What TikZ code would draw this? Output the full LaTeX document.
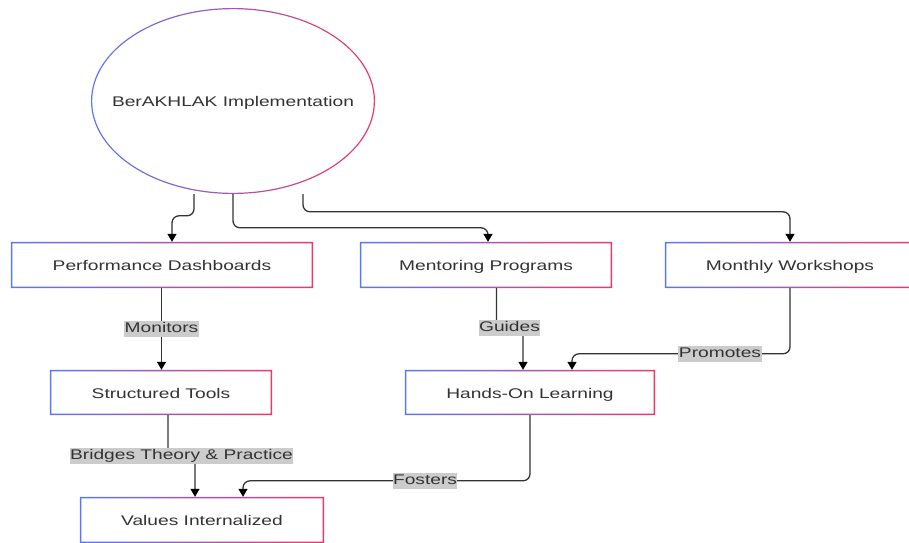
\documentclass[tikz,border=0pt]{standalone}
\usepackage{fontspec}
\setmainfont{Liberation Sans}[FakeStretch=1.37]
\usetikzlibrary{arrows.meta,shapes.geometric}
\definecolor{bl}{RGB}{90,120,245}
\definecolor{rd}{RGB}{240,55,105}
\definecolor{ink}{RGB}{51,51,51}
\definecolor{tagbg}{RGB}{204,204,204}

% blue-to-pink frame around a rectangular node
\newcommand\gradframe[1]{%
  \shade[left color=bl,right color=rd,even odd rule]
    (#1.north west) rectangle (#1.south east)
    ([shift={(1.5pt,-1.5pt)}]#1.north west) rectangle ([shift={(-1.5pt,1.5pt)}]#1.south east);}

\begin{document}
\begin{tikzpicture}[x=1pt,y=-1pt,
  txt/.style={text=ink,font=\fontsize{14}{16}\selectfont},
  box/.style={txt,rectangle,fill=white,inner sep=0pt,minimum height=46pt,
    text height=11pt,text depth=0pt},
  tag/.style={txt,fill=tagbg,inner xsep=0.5pt,inner ysep=1pt,text height=11pt,text depth=3.5pt},
  edge/.style={draw=ink,line width=1.3pt,rounded corners=7pt,
    -{Triangle[width=9pt,length=8pt,color=black]}},
]
\useasboundingbox (0,0) rectangle (909,542);
\clip (0,0) rectangle (909,542);

% start node
\node[txt,ellipse,fill=white,inner sep=0pt,minimum width=284pt,minimum height=186pt,
  text height=11pt,text depth=0pt] (root) at (233,101) {BerAKHLAK Implementation};
\shade[left color=bl,right color=rd,even odd rule]
  (root.center) ellipse [x radius=142pt,y radius=93pt]
  (root.center) ellipse [x radius=140.8pt,y radius=91.8pt];

% boxes
\node[box,minimum width=302pt] (pd)  at (162,265)   {Performance Dashboards};
\node[box,minimum width=252pt] (mp)  at (486,265)   {Mentoring Programs};
\node[box,minimum width=250pt] (mw)  at (790,265)   {Monthly Workshops};
\node[box,minimum width=222pt,minimum height=45pt] (st)  at (161,392.5) {Structured Tools};
\node[box,minimum width=250pt,minimum height=45pt] (hol) at (530,392.5) {Hands-On Learning};
\node[box,minimum width=244pt,minimum height=46pt] (vi)  at (202,520)   {Values Internalized};
\foreach \n in {pd,mp,mw,st,hol,vi} {\gradframe{\n}}

% connectors from the start node
\draw[edge] ([xshift=-39pt]root.south) |- ([xshift=10pt,yshift=26pt]pd.north) -- ([xshift=10pt]pd.north);
\draw[edge] (root.south) |- ([xshift=2pt,yshift=14pt]mp.north) -- ([xshift=2pt]mp.north);
\draw[edge] ([xshift=70pt]root.south) |- ([yshift=30pt]mw.north) -- (mw.north);

% Monitors
\draw[edge] ([xshift=-0.5pt]pd.south) -- ([xshift=-0.5pt]pd.south |- st.north);
\node[tag] (lmon) at (161.5,329) {Monitors};

% Guides
\draw[edge] ([xshift=10.5pt]mp.south) -- ++(0,40) -| ([xshift=-7pt]hol.north);
\node[tag] (lgui) at (509.5,328) {Guides};

% Promotes
\draw[edge] (mw.south) |- ([xshift=42pt,yshift=16pt]hol.north) -- ([xshift=42pt]hol.north);
\node[tag] (lpro) at (720,354) {Promotes};

% Bridges Theory & Practice
\draw[edge] ([xshift=7pt]st.south) -- ++(0,41) -| ([xshift=-7pt]vi.north);
\node[tag] (lbri) at (181.5,456) {Bridges Theory \& Practice};

% Fosters
\draw[edge] (hol.south) |- ([xshift=41pt,yshift=16pt]vi.north) -- ([xshift=41pt]vi.north);
\node[tag] (lfos) at (425,481) {Fosters};
\end{tikzpicture}
\end{document}
